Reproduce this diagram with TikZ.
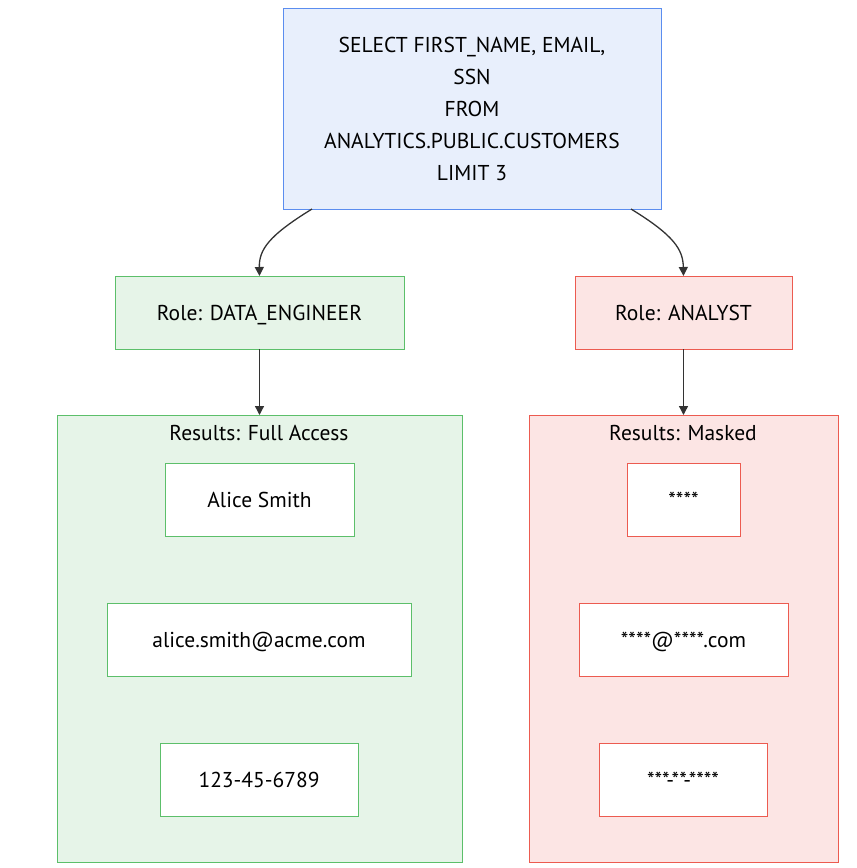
\documentclass[tikz,border=0pt]{standalone}
\usepackage{fontspec}
\setmainfont{PT Sans}
\usetikzlibrary{arrows.meta,calc}
\definecolor{topfill}{HTML}{E8EFFC}
\definecolor{topdraw}{HTML}{5B8DEF}
\definecolor{gfill}{HTML}{E6F4E8}
\definecolor{gdraw}{HTML}{5CBF6A}
\definecolor{rfill}{HTML}{FCE5E4}
\definecolor{rdraw}{HTML}{EC5B50}
\definecolor{linec}{HTML}{333333}
\tikzset{
  x=1pt,y=-1pt,
  every node/.style={font=\fontsize{21.5}{32}\selectfont, text=black, inner sep=0pt, outer sep=0pt},
  one/.style={text height=19pt, text depth=3pt},
  box/.style={draw, line width=1pt, rectangle, minimum height=73pt},
  gbox/.style={box, one, draw=gdraw, fill=gfill},
  rbox/.style={box, one, draw=rdraw, fill=rfill},
  gwbox/.style={box, one, draw=gdraw, fill=white},
  rwbox/.style={box, one, draw=rdraw, fill=white},
  conn/.style={draw=linec, line width=1.3pt, -{Triangle[length=9pt,width=9pt]}},
}
\begin{document}
\begin{tikzpicture}
\useasboundingbox (0,0) rectangle (857,868);
% clusters
\node[draw=gdraw, fill=gfill, line width=1pt, anchor=north west, minimum width=405pt, minimum height=447pt] (gclus) at (57,415) {};
\node[draw=rdraw, fill=rfill, line width=1pt, anchor=north west, minimum width=309pt, minimum height=447pt] (rclus) at (529,415) {};
\node[one] (gtitle) at (259,432) {Results: Full Access};
\node[one] (rtitle) at (683,432) {Results: Masked};
% top
\node[box, draw=topdraw, fill=topfill, minimum width=378pt, minimum height=201pt, align=center] (top) at (472,108.5)
  {SELECT FIRST\_NAME, EMAIL,\\SSN\\FROM\\ANALYTICS.PUBLIC.CUSTOMERS\\LIMIT 3};
% roles
\node[gbox, minimum width=289pt] (de) at (259.5,312.5) {Role: DATA\_ENGINEER};
\node[rbox, minimum width=217pt] (an) at (683.5,312.5) {Role: ANALYST};
% green results
\node[gwbox, minimum width=189pt] (g1) at (259.5,499.5) {Alice Smith};
\node[gwbox, minimum width=304pt] (g2) at (259,639.5) {alice.smith@acme.com};
\node[gwbox, minimum width=198pt] (g3) at (259,779.5) {123-45-6789};
% red results
\node[rwbox, minimum width=113pt] (r1) at (683.5,499.5) {****};
\node[rwbox, minimum width=209pt] (r2) at (683.5,639.5) {****@****.com};
\node[rwbox, minimum width=168pt] (r3) at (683,779.5) {***-**-****};
% connectors
\coordinate (tl) at ($(top.south west)+(29,0)$);
\coordinate (tr) at ($(top.south east)+(-30,0)$);
\draw[conn] (tl) .. controls (268,236) and (259,250) .. (de.north);
\draw[conn] (tr) .. controls (675,236) and (683,250) .. (an.north);
\draw[conn] (de.south) -- (gclus.north -| de.south);
\draw[conn] (an.south) -- (rclus.north -| an.south);
\end{tikzpicture}
\end{document}
